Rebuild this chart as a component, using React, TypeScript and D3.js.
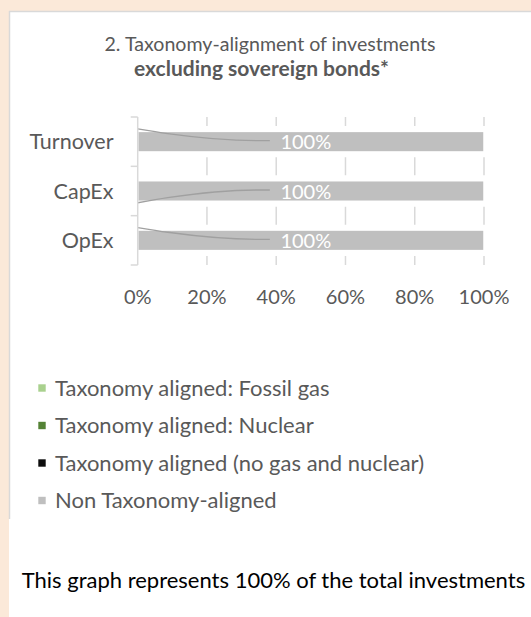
import React from "react";
import * as d3 from "d3";

const W = 531;
const H = 617;

const categories = ["Turnover", "CapEx", "OpEx"];
const seriesKeys = ["fossilGas", "nuclear", "alignedOther", "nonAligned"];
const seriesNames = [
  "Taxonomy aligned: Fossil gas",
  "Taxonomy aligned: Nuclear",
  "Taxonomy aligned (no gas and nuclear)",
  "Non Taxonomy-aligned",
];
const seriesColors = ["#a9d18e", "#548235", "#0d0d0d", "#bfbfbf"];
const fossilGas = [0, 0, 0];
const nuclear = [0, 0, 0];
const alignedOther = [0, 0, 0];
const nonAligned = [1, 1, 1];
const tickValues = [0, 0.2, 0.4, 0.6, 0.8, 1];
// which way the leader line of the hidden zero labels bends
const leaderDir = ["up", "down", "up"];

const titleLine1 = "2. Taxonomy-alignment of investments";
const titleLine2 = "excluding sovereign bonds*";
const footnote = "This graph represents 100% of the total investments";

const FONT = "Lato, 'Open Sans', sans-serif";
const GREY_TEXT = "#595959";

const App = () => {
  const rows = categories.map((c, i) => ({
    category: c,
    fossilGas: fossilGas[i],
    nuclear: nuclear[i],
    alignedOther: alignedOther[i],
    nonAligned: nonAligned[i],
  }));
  const stacked = d3.stack<any>().keys(seriesKeys)(rows);

  const x = d3.scaleLinear().domain([0, 1]).range([137.7, 484]);
  const y = d3.scaleBand().domain(categories).range([117, 265]).padding(0);
  const barH = y.bandwidth() / 2.4;
  const barOff = (y.bandwidth() - barH) / 2;

  const bounds = categories.map((c) => y(c) as number).concat([y.range()[1]]);
  const step = y.step();
  const dash = 18;

  const leader = d3.line<[number, number]>().curve(d3.curveMonotoneX);

  const legendY = d3.scalePoint().domain(seriesNames).range([388, 500.5]);

  return (
    <div style={{ position: "absolute", left: 0, top: 0 }}>
      <svg width={W} height={H} style={{ display: "block" }}>
        <rect x={0} y={0} width={W} height={H} fill="#fbe9d9" />
        <rect x={9} y={11} width={W} height={H} fill="#ffffff" />
        <line x1={9} x2={W} y1={11.5} y2={11.5} stroke="#d9d9d9" strokeWidth={1.5} />
        <line x1={9.5} x2={9.5} y1={11} y2={519} stroke="#d9d9d9" strokeWidth={1.5} />

        <text x={270} y={50.5} textAnchor="middle" fontFamily={FONT} fontSize={19.6} fill={GREY_TEXT}>
          {titleLine1}
        </text>
        <text x={261.5} y={76} textAnchor="middle" fontFamily={FONT} fontSize={21} fontWeight="bold" fill={GREY_TEXT}>
          {titleLine2}
        </text>

        {/* dashed vertical gridlines */}
        {tickValues.slice(1).map((t) => (
          <line
            key={t}
            x1={x(t)}
            x2={x(t)}
            y1={y.range()[0]}
            y2={y.range()[1]}
            stroke="#d9d9d9"
            strokeWidth={1.5}
            strokeDasharray={`${dash} ${step - dash}`}
            strokeDashoffset={dash / 2}
          />
        ))}

        {/* stacked bars */}
        {stacked.map((s, si) => (
          <g key={s.key} fill={seriesColors[si]}>
            {s.map((d, i) =>
              d[1] - d[0] > 0 ? (
                <rect
                  key={i}
                  x={x(d[0])}
                  y={(y(categories[i]) as number) + barOff}
                  width={x(d[1]) - x(d[0])}
                  height={barH}
                  stroke="#ffffff"
                  strokeWidth={1.5}
                />
              ) : null
            )}
          </g>
        ))}

        {/* leader lines */}
        {categories.map((c, i) => {
          const top = (y(c) as number) + barOff;
          const cy = top + barH / 2;
          const y0 = leaderDir[i] === "up" ? top - 2.5 : top + barH + 1.5;
          const xEnd = x(0.5) - 41;
          return (
            <path
              key={c}
              d={leader([
                [x(0), y0],
                [x(0) + 30, y0 + (cy - 1 - y0) * 0.4],
                [xEnd - 12, cy - 1],
                [xEnd, cy - 1],
              ]) as string}
              fill="none"
              stroke="#a0a0a0"
              strokeWidth={1.3}
            />
          );
        })}

        {/* data labels for the non aligned share */}
        {stacked[3].map((d, i) => (
          <text
            key={i}
            x={x((d[0] + d[1]) / 2) - 5}
            y={(y(categories[i]) as number) + y.bandwidth() / 2 + 7.5}
            textAnchor="middle"
            fontFamily={FONT}
            fontSize={20}
            fill="#ffffff"
          >
            {d3.format(".0%")(d[1] - d[0])}
          </text>
        ))}

        {/* category axis */}
        <line x1={x(0)} x2={x(0)} y1={y.range()[0]} y2={y.range()[1]} stroke="#d9d9d9" strokeWidth={1.5} />
        {bounds.map((b, i) => (
          <line key={i} x1={x(0) - 7} x2={x(0)} y1={b} y2={b} stroke="#d9d9d9" strokeWidth={1.5} />
        ))}
        {categories.map((c) => (
          <text
            key={c}
            x={113.5}
            y={(y(c) as number) + y.bandwidth() / 2 + 7.5}
            textAnchor="end"
            fontFamily={FONT}
            fontSize={21.5}
            fill={GREY_TEXT}
          >
            {c}
          </text>
        ))}

        {/* value axis labels */}
        {tickValues.map((t) => (
          <text key={t} x={x(t)} y={304} textAnchor="middle" fontFamily={FONT} fontSize={20} fill={GREY_TEXT}>
            {d3.format(".0%")(t)}
          </text>
        ))}

        {/* legend */}
        {seriesNames.map((n, i) => (
          <g key={n} transform={`translate(0, ${legendY(n)})`}>
            <rect x={38.3} y={-3.7} width={7.4} height={7.4} fill={seriesColors[i]} />
            <text x={55} y={7.5} fontFamily={FONT} fontSize={22} fill={GREY_TEXT}>
              {n}
            </text>
          </g>
        ))}

        <text x={21.7} y={587.5} fontFamily={FONT} fontSize={22} fill="#000000">
          {footnote}
        </text>
      </svg>
    </div>
  );
};

export default App;
